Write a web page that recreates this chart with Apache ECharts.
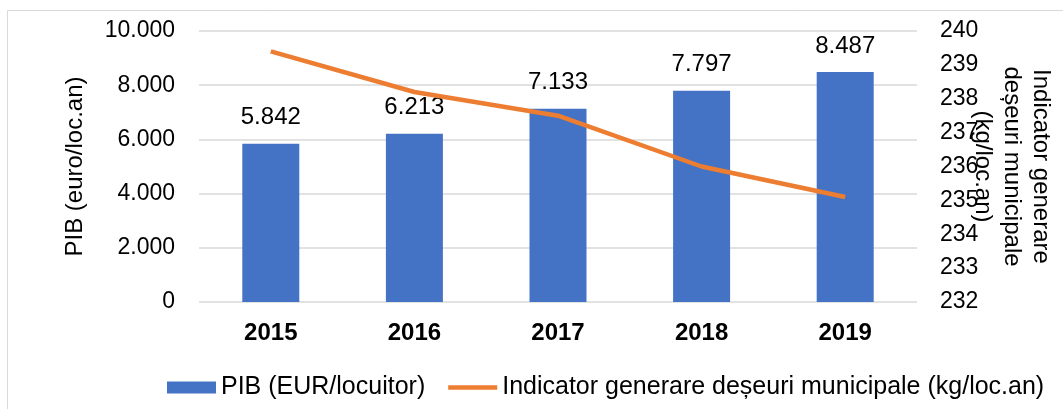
<!DOCTYPE html>
<html>
<head>
<meta charset="utf-8">
<script src="https://cdn.jsdelivr.net/npm/echarts@6/dist/echarts.min.js"></script>
<style>
  html, body { margin: 0; padding: 0; background: #fff; }
  #chart { width: 1063px; height: 409px; }
</style>
</head>
<body>
<div id="chart"></div>
<script>
const years = ['2015', '2016', '2017', '2018', '2019']
const pib = [5842, 6213, 7133, 7797, 8487]
const deseuri = [239.4, 238.2, 237.5, 236.0, 235.1]
const leftTicks = { min: 0, max: 10000, interval: 2000 }
const rightTicks = { min: 232, max: 240, interval: 1 }

// format numbers with dot as thousands separator
function fmt(v) {
    return String(v).replace(/\B(?=(\d{3})+(?!\d))/g, '.')
}

const font = 'Liberation Sans, Arial, sans-serif'
const chart = echarts.init(document.getElementById('chart'))
const option = {
    animation: false,
    textStyle: { fontFamily: font },
    graphic: [{
        type: 'rect',
        shape: { x: 7.5, y: 10.5, width: 1070, height: 420 },
        style: { fill: 'none', stroke: '#d9d9d9', lineWidth: 1 },
        silent: true
    }],
    grid: { left: 199, right: 146, top: 31, bottom: 107, containLabel: false, outerBoundsMode: 'none' },
    legend: {
        top: 370,
        left: 162,
        itemGap: 23,
        itemWidth: 49,
        itemHeight: 12,
        textStyle: { fontSize: 25, color: '#000', fontFamily: font },
        data: [
            { name: 'PIB (EUR/locuitor)', icon: 'rect' },
            { name: 'Indicator generare deșeuri municipale (kg/loc.an)', icon: 'path://M0,0 L53,0 L53,5 L0,5 Z' }
        ]
    },
    xAxis: {
        type: 'category',
        data: years,
        axisLine: { show: false },
        axisTick: { show: false },
        axisLabel: { fontSize: 24, fontWeight: 'bold', color: '#000', margin: 19 }
    },
    yAxis: [{
        type: 'value',
        min: leftTicks.min,
        max: leftTicks.max,
        interval: leftTicks.interval,
        name: 'PIB (euro/loc.an)',
        nameLocation: 'middle',
        nameGap: 112,
        nameMoveOverlap: false,
        nameTextStyle: { fontSize: 24, color: '#000' },
        axisLabel: { fontSize: 23, color: '#000', margin: 24, formatter: fmt },
        splitLine: { lineStyle: { color: '#d9d9d9', width: 1.5 } }
    }, {
        type: 'value',
        position: 'right',
        min: rightTicks.min,
        max: rightTicks.max,
        interval: rightTicks.interval,
        name: 'Indicator generare\ndeșeuri municipale\n(kg/loc.an)',
        nameLocation: 'middle',
        nameRotate: -90,
        nameGap: 51,
        nameMoveOverlap: false,
        nameTextStyle: { fontSize: 24, color: '#000', lineHeight: 29 },
        axisLabel: { fontSize: 23, color: '#000', margin: 23 },
        splitLine: { show: false }
    }],
    series: [{
        name: 'PIB (EUR/locuitor)',
        type: 'bar',
        data: pib,
        barWidth: 57,
        itemStyle: { color: '#4472c4' },
        label: {
            show: true,
            position: 'top',
            distance: 14,
            fontSize: 24,
            color: '#000',
            formatter: p => fmt(p.value)
        }
    }, {
        name: 'Indicator generare deșeuri municipale (kg/loc.an)',
        type: 'line',
        yAxisIndex: 1,
        data: deseuri,
        symbol: 'none',
        lineStyle: { color: '#ed7d31', width: 4.5 },
        itemStyle: { color: '#ed7d31' }
    }]
}
chart.setOption(option)
</script>
</body>
</html>
